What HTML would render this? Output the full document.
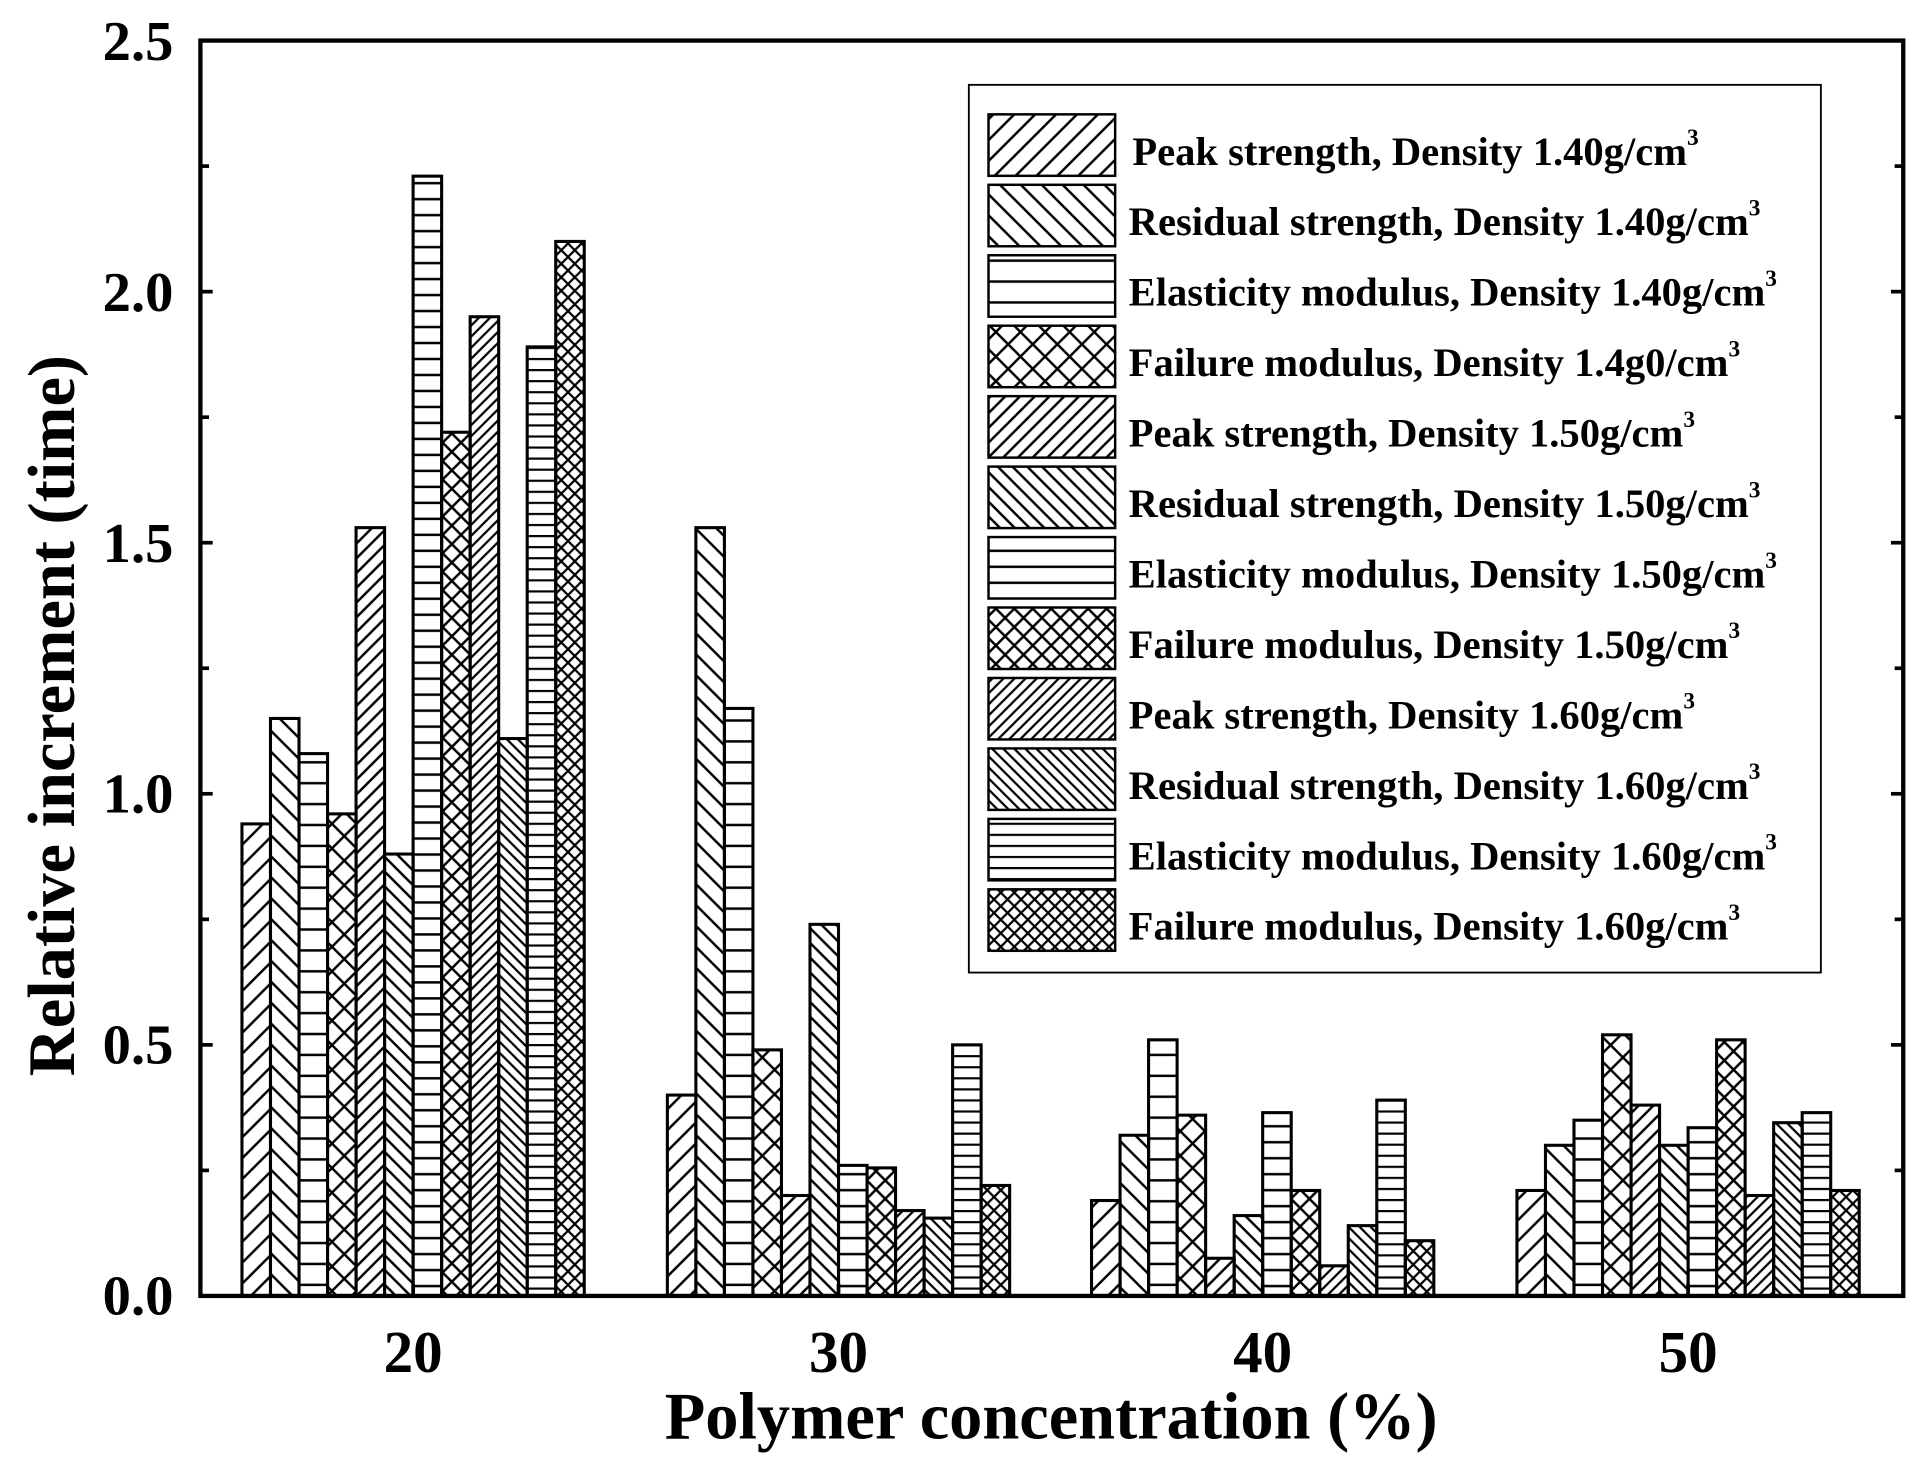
<!DOCTYPE html>
<html><head><meta charset="utf-8"><style>html,body{margin:0;padding:0;background:#fff}svg{display:block}</style></head>
<body>
<svg width="1918" height="1457" viewBox="0 0 1560 1185" preserveAspectRatio="none" xmlns="http://www.w3.org/2000/svg" font-family="Liberation Serif, serif" font-weight="bold">
<defs>
<pattern id="d1" patternUnits="userSpaceOnUse" width="17" height="17"><path d="M-2,19 L19,-2 M-4,4 L4,-4 M13,21 L21,13" stroke="#000" stroke-width="2"/></pattern>
<pattern id="b1" patternUnits="userSpaceOnUse" width="17" height="17"><path d="M-2,-2 L19,19 M-4,13 L4,21 M13,-4 L21,4" stroke="#000" stroke-width="2"/></pattern>
<pattern id="h1" patternUnits="userSpaceOnUse" width="20" height="17"><path d="M0,8 L20,8" stroke="#000" stroke-width="2"/></pattern>
<pattern id="x1" patternUnits="userSpaceOnUse" width="20" height="20"><path d="M-2,22 L22,-2 M-2,-2 L22,22" stroke="#000" stroke-width="2"/></pattern>
<pattern id="d2" patternUnits="userSpaceOnUse" width="12" height="12"><path d="M-2,14 L14,-2 M-4,4 L4,-4 M8,16 L16,8" stroke="#000" stroke-width="2"/></pattern>
<pattern id="b2" patternUnits="userSpaceOnUse" width="12" height="12"><path d="M-2,-2 L14,14 M-4,8 L4,16 M8,-4 L16,4" stroke="#000" stroke-width="2"/></pattern>
<pattern id="h2" patternUnits="userSpaceOnUse" width="20" height="13"><path d="M0,6 L20,6" stroke="#000" stroke-width="2"/></pattern>
<pattern id="x2" patternUnits="userSpaceOnUse" width="15" height="15"><path d="M-2,17 L17,-2 M-2,-2 L17,17" stroke="#000" stroke-width="2"/></pattern>
<pattern id="d3" patternUnits="userSpaceOnUse" width="9" height="9"><path d="M-2,11 L11,-2 M-4,4 L4,-4 M5,13 L13,5" stroke="#000" stroke-width="1.8"/></pattern>
<pattern id="b3" patternUnits="userSpaceOnUse" width="9" height="9"><path d="M-2,-2 L11,11 M-4,5 L4,13 M5,-4 L13,4" stroke="#000" stroke-width="1.8"/></pattern>
<pattern id="h3" patternUnits="userSpaceOnUse" width="20" height="9"><path d="M0,4 L20,4" stroke="#000" stroke-width="1.8"/></pattern>
<pattern id="x3" patternUnits="userSpaceOnUse" width="11" height="11"><path d="M-2,13 L13,-2 M-2,-2 L13,13" stroke="#000" stroke-width="1.8"/></pattern>
</defs>
<g id="bars" stroke="#000" stroke-width="2.5"></g>
<rect x="163" y="33" width="1385" height="1021" fill="none" stroke="#000" stroke-width="3.5"/>
<g id="ticks" stroke="#000" stroke-width="3"></g>
<g font-size="46" text-anchor="end">
<text x="141" y="1069">0.0</text><text x="141" y="865">0.5</text><text x="141" y="661">1.0</text><text x="141" y="457">1.5</text><text x="141" y="253">2.0</text><text x="141" y="49">2.5</text>
</g>
<g font-size="48" text-anchor="middle">
<text x="336" y="1116">20</text><text x="682" y="1116">30</text><text x="1027" y="1116">40</text><text x="1373" y="1116">50</text>
</g>
<text x="855" y="1170" font-size="54" text-anchor="middle">Polymer concentration (%)</text>
<text transform="translate(60,582) rotate(-90)" font-size="54" text-anchor="middle">Relative increment (time)</text>
<rect x="788" y="69" width="693" height="722" fill="#fff" stroke="#000" stroke-width="1.5"/>
<g id="legend" font-size="33"></g>
<script>
var ns="http://www.w3.org/2000/svg";
var pats=["d1","b1","h1","x1","d2","b2","h2","x2","d3","b3","h3","x3"];
var data=[[0.94,1.15,1.08,0.96,1.53,0.88,2.23,1.72,1.95,1.11,1.89,2.10],
[0.40,1.53,1.17,0.49,0.20,0.74,0.26,0.255,0.17,0.155,0.50,0.22],
[0.19,0.32,0.51,0.36,0.075,0.16,0.365,0.21,0.06,0.14,0.39,0.11],
[0.21,0.30,0.35,0.52,0.38,0.30,0.335,0.51,0.20,0.345,0.365,0.21]];
var centers=[336,682,1027,1373],bw=23.2,g=document.getElementById("bars");
function el(t,a,p){var e=document.createElementNS(ns,t);for(var k in a)e.setAttribute(k,a[k]);p.appendChild(e);return e;}
data.forEach(function(d,gi){var x0=centers[gi]-6*bw;d.forEach(function(v,i){var h=v*408.4;
el("rect",{x:x0+i*bw,y:1054-h,width:bw,height:h,fill:"url(#"+pats[i]+")"},g);});});
var t=document.getElementById("ticks");
for(var i=1;i<10;i++){var y=1054-i*0.25*408.4;var L=i%2==0?10:7;
el("line",{x1:163,y1:y,x2:163+L,y2:y},t);el("line",{x1:1548,y1:y,x2:1548-L,y2:y},t);}
[336,682,1027,1373].forEach(function(x){el("line",{x1:x,y1:1054,x2:x,y2:1044},t);});
var names=["Peak strength, Density 1.40g/cm","Residual strength, Density 1.40g/cm","Elasticity modulus, Density 1.40g/cm","Failure modulus, Density 1.4g0/cm",
"Peak strength, Density 1.50g/cm","Residual strength, Density 1.50g/cm","Elasticity modulus, Density 1.50g/cm","Failure modulus, Density 1.50g/cm",
"Peak strength, Density 1.60g/cm","Residual strength, Density 1.60g/cm","Elasticity modulus, Density 1.60g/cm","Failure modulus, Density 1.60g/cm"];
var lg=document.getElementById("legend");
names.forEach(function(n,i){var y=93+i*57.3;
el("rect",{x:804,y:y,width:103,height:50,fill:"url(#"+pats[i]+")",stroke:"#000","stroke-width":2},lg);
var tx=el("text",{x:i==0?921:918,y:y+41},lg);tx.textContent=n;
var s=document.createElementNS(ns,"tspan");s.setAttribute("font-size","19");s.setAttribute("dy","-16");s.textContent="3";tx.appendChild(s);});
</script>
</svg>
</body></html>
